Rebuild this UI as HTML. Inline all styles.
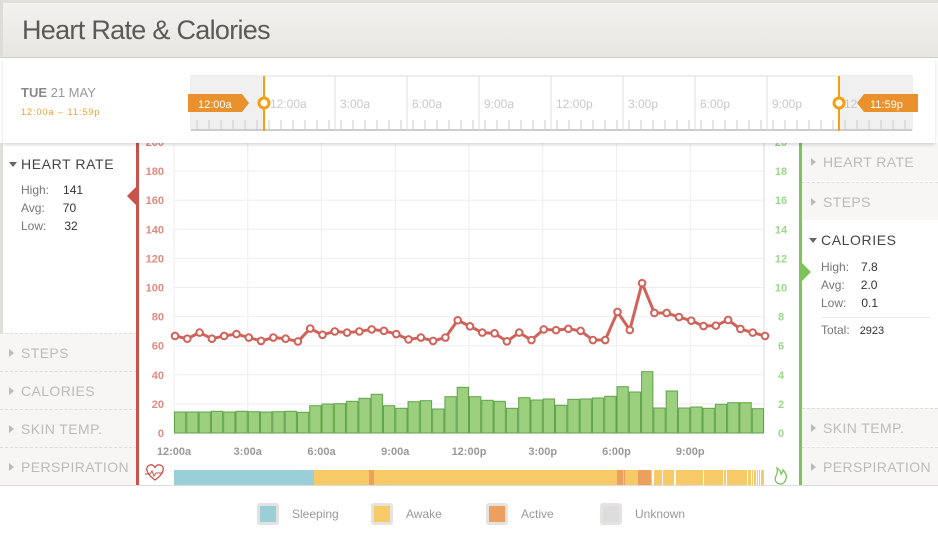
<!DOCTYPE html>
<html><head><meta charset="utf-8"><style>
*{margin:0;padding:0;box-sizing:border-box}
body{width:938px;height:538px;overflow:hidden;background:#fff;font-family:"Liberation Sans",sans-serif;position:relative}
.a{position:absolute}
.hdr{left:0;top:0;width:938px;height:58px;background:linear-gradient(#f3f2f0,#e7e6e2);border-top:3px solid #e0dfda;border-bottom:1px solid #cfcdc8;border-left:3px solid #dddcd7}
.hdr span{position:absolute;left:19px;top:12px;font-size:27px;color:#5a5a5a;letter-spacing:-0.7px}
.dp{left:3px;top:58px;width:932px;height:85px;background:#fff;box-shadow:0 2px 3px rgba(0,0,0,.15);z-index:2}
.sec{font-size:14px;letter-spacing:0.4px;color:#bbb;padding-left:21px;position:absolute;height:38px;line-height:38px;background:#f7f6f4;border-top:1px dashed #ddd;white-space:nowrap;overflow:hidden}
.sec:before{content:"";position:absolute;left:9px;top:15px;border-left:5px solid #bbb;border-top:4px solid transparent;border-bottom:4px solid transparent}
.st{font-size:12px;color:#777;line-height:18px}
.st b{font-weight:normal;color:#333;display:inline-block;margin-left:12px}
.lg{font-size:12px;color:#999;top:507px}
.sw{width:22px;height:22px;border:3px solid #e4e3df;border-radius:3px;top:503px}
</style></head><body>
<div class="a hdr"><span>Heart Rate &amp; Calories</span></div>
<div class="a dp">
  <div class="a" style="left:18px;top:27px;font-size:13px;color:#999"><b style="color:#888">TUE</b> 21 MAY</div>
  <div class="a" style="left:18px;top:49px;font-size:9px;color:#f0a030;letter-spacing:1px">12:00a – 11:59p</div>
</div>
<svg class="a" style="left:0;top:0;z-index:3" width="938" height="143">
  <rect x="191" y="76" width="721" height="54" fill="#fff" stroke="#ddd"/>
  <rect x="191" y="76" width="73" height="54" fill="#f0f0f0"/>
  <rect x="838" y="76" width="74" height="54" fill="#f0f0f0"/>
  <line x1="191" y1="130" x2="912" y2="130" stroke="#ccc" stroke-width="2"/>
  <g stroke="#ddd">
  <line x1="335" y1="76" x2="335" y2="130"/><line x1="407" y1="76" x2="407" y2="130"/><line x1="479" y1="76" x2="479" y2="130"/><line x1="551" y1="76" x2="551" y2="130"/><line x1="623" y1="76" x2="623" y2="130"/><line x1="695" y1="76" x2="695" y2="130"/><line x1="767" y1="76" x2="767" y2="130"/>
  </g>
  <g stroke="#ccc" id="tk"></g>
  <g font-size="12" fill="#c8c8c8" font-family="Liberation Sans">
  <text x="270" y="108">12:00a</text><text x="340" y="108">3:00a</text><text x="412" y="108">6:00a</text><text x="484" y="108">9:00a</text><text x="556" y="108">12:00p</text><text x="628" y="108">3:00p</text><text x="700" y="108">6:00p</text><text x="772" y="108">9:00p</text><text x="844" y="108">12</text>
  </g>
  <line x1="264" y1="76" x2="264" y2="131" stroke="#f5a010" stroke-width="2"/>
  <line x1="839" y1="76" x2="839" y2="131" stroke="#f5a010" stroke-width="2"/>
  <path d="M188 94h54l7 9-7 9h-54z" fill="#e8912d"/>
  <text x="198" y="108" font-size="11" fill="#fff" font-family="Liberation Sans">12:00a</text>
  <path d="M918 94h-54l-7 9 7 9h54z" fill="#e8912d"/>
  <text x="870" y="108" font-size="11" fill="#fff" font-family="Liberation Sans">11:59p</text>
  <circle cx="264" cy="103" r="5" fill="#fff" stroke="#f5a010" stroke-width="3"/>
  <circle cx="839" cy="103" r="5" fill="#fff" stroke="#f5a010" stroke-width="3"/>
</svg>
<div class="a" style="left:0;top:143px;width:137px;height:342px;background:#fff;border-left:3px solid #e0dfda"></div>
<div class="a" style="left:21px;top:156px;font-size:14px;letter-spacing:0.6px;color:#444">HEART RATE</div>
<div class="a" style="left:9px;top:162px;border-top:5px solid #666;border-left:4px solid transparent;border-right:4px solid transparent"></div>
<div class="a st" style="left:21px;top:181px">High:<b style="margin-left:14px">141</b><br>Avg:<b style="margin-left:18px">70</b><br>Low:<b style="margin-left:18px">32</b></div>
<div class="sec" style="left:0;top:333px;width:137px">STEPS</div>
<div class="sec" style="left:0;top:371px;width:137px">CALORIES</div>
<div class="sec" style="left:0;top:409px;width:137px">SKIN TEMP.</div>
<div class="sec" style="left:0;top:447px;width:137px">PERSPIRATION</div>
<div class="sec" style="left:802px;top:143px;width:136px;border-top:none">HEART RATE</div>
<div class="sec" style="left:802px;top:182px;width:136px">STEPS</div>
<div class="a" style="left:821px;top:232px;font-size:14px;letter-spacing:0.6px;color:#444">CALORIES</div>
<div class="a" style="left:809px;top:238px;border-top:5px solid #666;border-left:4px solid transparent;border-right:4px solid transparent"></div>
<div class="a st" style="left:821px;top:258px">High:<b>7.8</b><br>Avg:<b style="margin-left:16px">2.0</b><br>Low:<b style="margin-left:15px">0.1</b></div>
<div class="a" style="left:821px;top:317px;width:110px;border-top:1px solid #eee"></div>
<div class="a st" style="left:821px;top:321px">Total:<b style="font-size:11px;margin-left:10px">2923</b></div>
<div class="sec" style="left:802px;top:408px;width:136px">SKIN TEMP.</div>
<div class="sec" style="left:802px;top:447px;width:136px">PERSPIRATION</div>
<div class="a" style="left:0;top:485px;width:938px;height:1px;background:#ddd"></div>
<svg class="a" style="left:0;top:143px" width="938" height="343" id="ch"></svg>
<div class="a sw" style="left:257px;background:#9acfd9"></div><div class="a lg" style="left:292px">Sleeping</div>
<div class="a sw" style="left:371px;background:#f7c967"></div><div class="a lg" style="left:406px">Awake</div>
<div class="a sw" style="left:486px;background:#eba15d"></div><div class="a lg" style="left:521px">Active</div>
<div class="a sw" style="left:600px;background:#ddd"></div><div class="a lg" style="left:635px">Unknown</div>
<script>
var s='';const O=143;
function Y(v){return 433-v*1.455-O}
for(let v=0;v<=200;v+=20){s+=`<line x1="174" x2="764" y1="${Y(v)}" y2="${Y(v)}" stroke="#eee"/>`;
 s+=`<text x="164" y="${Y(v)+4}" text-anchor="end" font-size="11" fill="#e08a80" font-weight="bold">${v}</text>`;
 s+=`<text x="781" y="${Y(v)+4}" text-anchor="middle" font-size="11" fill="#9bd88c" font-weight="bold">${v/10}</text>`;}
const xl=['12:00a','3:00a','6:00a','9:00a','12:00p','3:00p','6:00p','9:00p'];
for(let i=0;i<9;i++){let x=174+i*73.75;s+=`<line x1="${x}" x2="${x}" y1="0" y2="${Y(0)}" stroke="#eee"/>`;
 if(i<8)s+=`<text x="${x}" y="${451-O+4}" text-anchor="middle" font-size="11" font-weight="bold" fill="#999">${xl[i]}</text>`;}
s+=`<line x1="764" x2="764" y1="0" y2="${Y(0)}" stroke="#ddd"/>`;
const by=[412,412,412,411.3,412,411.3,411.7,412,411.7,411.3,412.3,405.7,404,403.7,401.3,398.3,394.3,405.7,408.3,401.7,400.7,409,396.7,387.3,396.7,400.3,401.3,408.3,397.7,400,399,405.3,399.3,399,398,396.3,386.7,392,371.7,408,391,408,407,408.3,404.3,402.7,402.7,408.7];
const w=590/48;
by.forEach((y,i)=>{let x=174+i*w;let h=433-y+1;s+=`<rect x="${x+0.5}" y="${y-O}" width="${w-1}" height="${h-1}" fill="#9dd07e" stroke="#5fa24a" stroke-width="1"/>`;});
const hr=[66.7,64.8,69,64.8,66.7,68,65.6,63.3,65.6,64.8,62.9,71.8,67.5,69.8,69,69.8,71.2,70.2,68,64.3,65.6,63.3,65.6,77.5,73.3,69,68.5,63,69,63.9,71.2,70.7,71.6,70.2,63.9,63.9,83.2,70.8,103,82.5,82.5,79.7,77.2,73.5,73.8,77.7,71.5,69,66.7];
let p=hr.map((v,i)=>`${175+i*w},${Y(v)}`).join(' ');
s+=`<polyline points="${p}" fill="none" stroke="#d0625a" stroke-width="3"/>`;
hr.forEach((v,i)=>{s+=`<circle cx="${175+i*w}" cy="${Y(v)}" r="3.3" fill="#fff" stroke="#d0625a" stroke-width="2"/>`;});
s+=`<rect x="136" y="0" width="3" height="342" fill="#c9524b"/><path d="M136 44l-9 9 9 9z" fill="#c9524b"/>`;
s+=`<rect x="799" y="0" width="3" height="342" fill="#7cc45a"/><path d="M802 120l9 9-9 9z" fill="#7cc45a"/>`;
const ay=470-O;
s+=`<rect x="174" y="${ay}" width="590" height="15" fill="#f7c967"/><rect x="174" y="${ay}" width="140" height="15" fill="#9acfd9"/>`;
[[369,5],[617,6],[624,1],[638,13]].forEach(a=>s+=`<rect x="${a[0]}" y="${ay}" width="${a[1]}" height="15" fill="#eba15d"/>`);
[[652,2],[662,1],[674,2],[703,1],[723,1],[726,1],[747,1],[751,1],[753,1],[756,1],[758,1],[760,1]].forEach(a=>s+=`<rect x="${a[0]}" y="${ay}" width="${a[1]}" height="15" fill="#fff"/>`);
s+=`<path d="M155 ${ay+10}c-10-7-10-14-5-15 3-1 5 2 5 3 0-1 2-4 5-3 5 1 5 8-5 15z" fill="none" stroke="#c9524b" stroke-width="1.3"/><path d="M145 ${ay+4}h5l2-3 2 5 2-3h7" fill="none" stroke="#c9524b" stroke-width="1"/>`;
s+=`<path d="M781 ${ay+14}c-5 0-7-4-5-8 1-2 2-5 1-8 3 2 4 4 4 6 1-1 2-3 2-4 3 3 4 6 3 9-1 3-3 5-5 5z" fill="none" stroke="#7cc45a" stroke-width="1.3"/>`;
document.getElementById('ch').innerHTML=s;
let t='';for(let x=197;x<912;x+=12){t+=`<line x1="${x}" x2="${x}" y1="120" y2="130"/>`}
document.getElementById('tk').innerHTML=t;
</script>
</body></html>
